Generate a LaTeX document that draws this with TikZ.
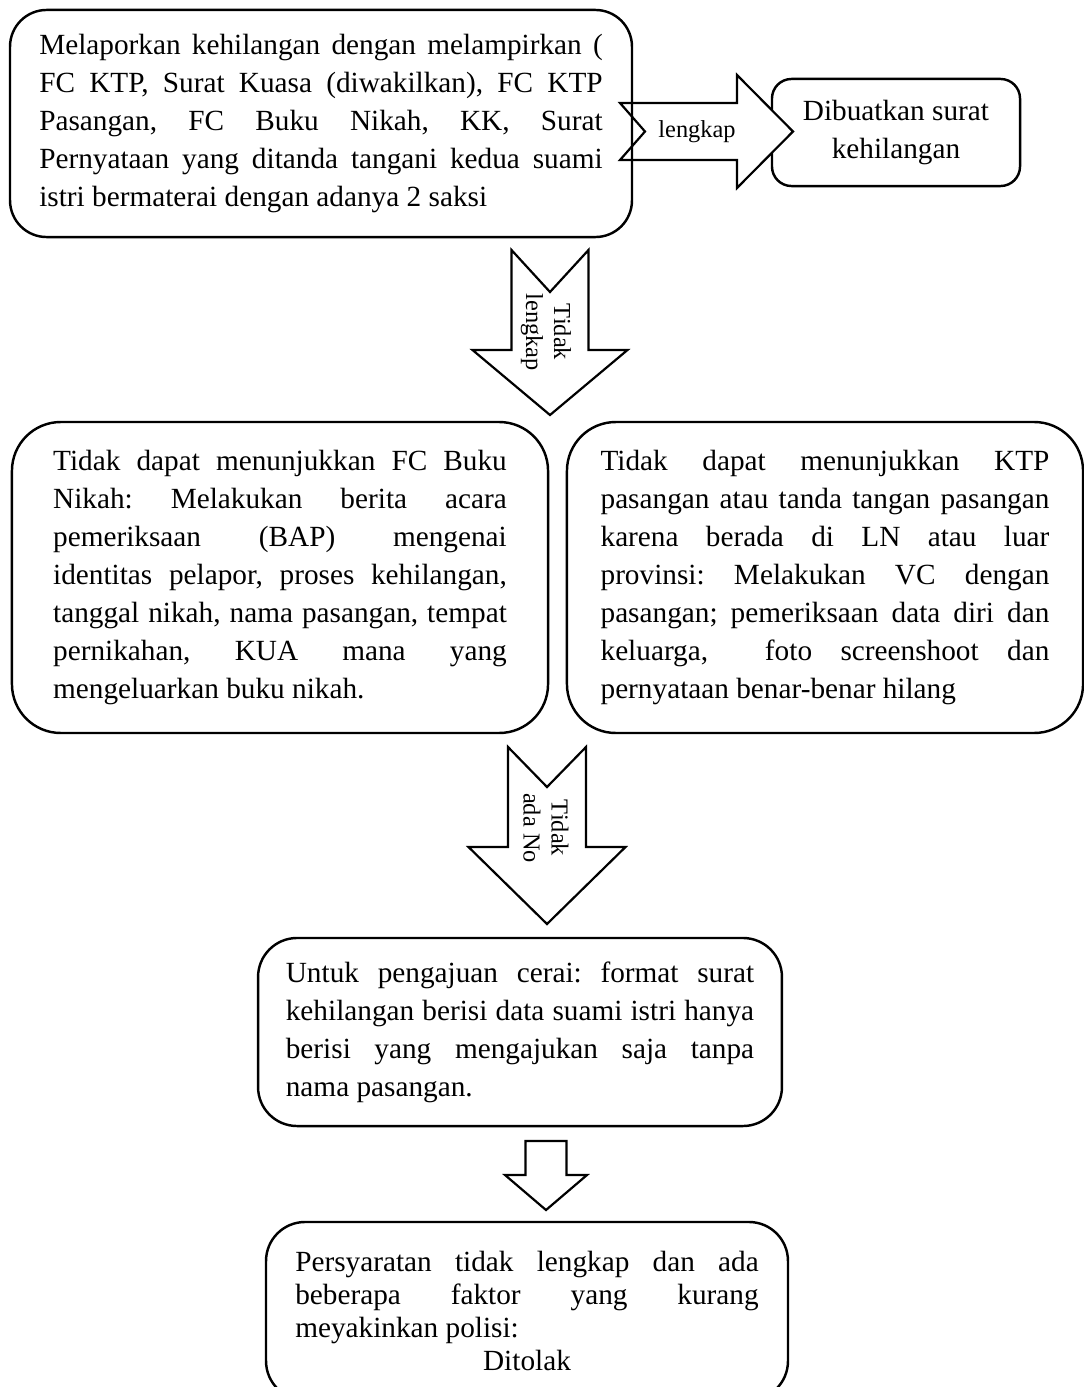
\documentclass[tikz,border=0pt]{standalone}
\usepackage{fontspec}
\setmainfont{Liberation Serif}
\setlength{\parindent}{0pt}
\frenchspacing
\hyphenpenalty=10000
\tolerance=10000

\tikzset{
  kotak/.style={draw,line width=1pt,inner sep=0pt,align=justify,
    font=\fontsize{12}{15.6}\selectfont},
  panah/.style={draw,line width=0.9pt,fill=white},
  ket/.style={inner sep=0pt,font=\fontsize{10}{11.5}\selectfont}
}
% block arrows: centre, half shaft, half head, start, notch, head base, tip
\newcommand{\panahbawah}[7]{%
  \draw[panah] ({#1-#2},#4) -- (#1,#5) -- ({#1+#2},#4) -- ({#1+#2},#6)
    -- ({#1+#3},#6) -- (#1,#7) -- ({#1-#3},#6) -- ({#1-#2},#6) -- cycle;}
\newcommand{\panahkanan}[7]{%
  \draw[panah] (#4,{#1-#2}) -- (#5,#1) -- (#4,{#1+#2}) -- (#6,{#1+#2})
    -- (#6,{#1+#3}) -- (#7,#1) -- (#6,{#1-#3}) -- (#6,{#1-#2}) -- cycle;}

\begin{document}
\begin{tikzpicture}[x=0.41pt,y=-0.41pt]
\useasboundingbox (0,0) rectangle (1084,1387);

% top row
\node[kotak,rounded corners=8pt,align=center,minimum width=101.7pt,minimum height=43.9pt] (surat) at (896,132.5) {Dibuatkan surat\\kehilangan};
\panahkanan{131.5}{28.5}{56.5}{620}{645}{737}{793}
\node[ket] (lengkap) at (697,132) {lengkap};
\node[kotak,rounded corners=15pt,text width=231pt,minimum width=255pt,minimum height=93.1pt] (lapor) at (321,123.5)
  {Melaporkan kehilangan dengan melampirkan (\linebreak
   FC KTP, Surat Kuasa (diwakilkan), FC KTP\linebreak
   Pasangan, FC Buku Nikah, KK, Surat\linebreak
   Pernyataan yang ditanda tangani kedua suami\linebreak
   istri bermaterai dengan adanya 2 saksi};

\panahbawah{550}{38.5}{77.5}{250}{292}{350}{415}
\node[ket,rotate=-90,align=center] (tdklengkap) at (546,332) {Tidak\\lengkap};

% middle row
\node[kotak,rounded corners=20pt,text width=186pt,minimum width=219.8pt,minimum height=127.5pt] (bukunikah) at (280,577.5)
  {Tidak dapat menunjukkan FC Buku\linebreak
   Nikah: Melakukan berita acara\linebreak
   pemeriksaan (BAP) mengenai\linebreak
   identitas pelapor, proses kehilangan,\linebreak
   tanggal nikah, nama pasangan, tempat\linebreak
   pernikahan, KUA mana yang\linebreak
   mengeluarkan buku nikah.};
\node[kotak,rounded corners=20pt,text width=184pt,minimum width=211.6pt,minimum height=127.5pt] (ktp) at (825,577.5)
  {Tidak dapat menunjukkan KTP\linebreak
   pasangan atau tanda tangan pasangan\linebreak
   karena berada di LN atau luar\linebreak
   provinsi: Melakukan VC dengan\linebreak
   pasangan; pemeriksaan data diri dan\linebreak
   keluarga,\ \ foto screenshoot dan\linebreak
   pernyataan benar-benar hilang};

\panahbawah{547}{39}{78.5}{747}{787}{847}{924}
\node[ket,rotate=-90,align=center] (tdkadano) at (546,828) {Tidak\\ada No};

% bottom
\node[kotak,rounded corners=16pt,text width=192pt,minimum width=214.8pt,minimum height=77.1pt] (cerai) at (520,1032)
  {Untuk pengajuan cerai: format surat\linebreak
   kehilangan berisi data suami istri hanya\linebreak
   berisi yang mengajukan saja tanpa\linebreak
   nama pasangan.};

\panahbawah{546}{20.5}{41}{1141}{1141}{1175}{1210}

\node[kotak,rounded corners=16pt,text width=190pt,minimum width=214pt,minimum height=73pt,
  font=\fontsize{12}{13.5}\selectfont] (tolak) at (527,1311)
  {Persyaratan tidak lengkap dan ada\linebreak
   beberapa faktor yang kurang\linebreak
   meyakinkan polisi:\\
   \makebox[\hsize]{Ditolak}};
\end{tikzpicture}
\end{document}
